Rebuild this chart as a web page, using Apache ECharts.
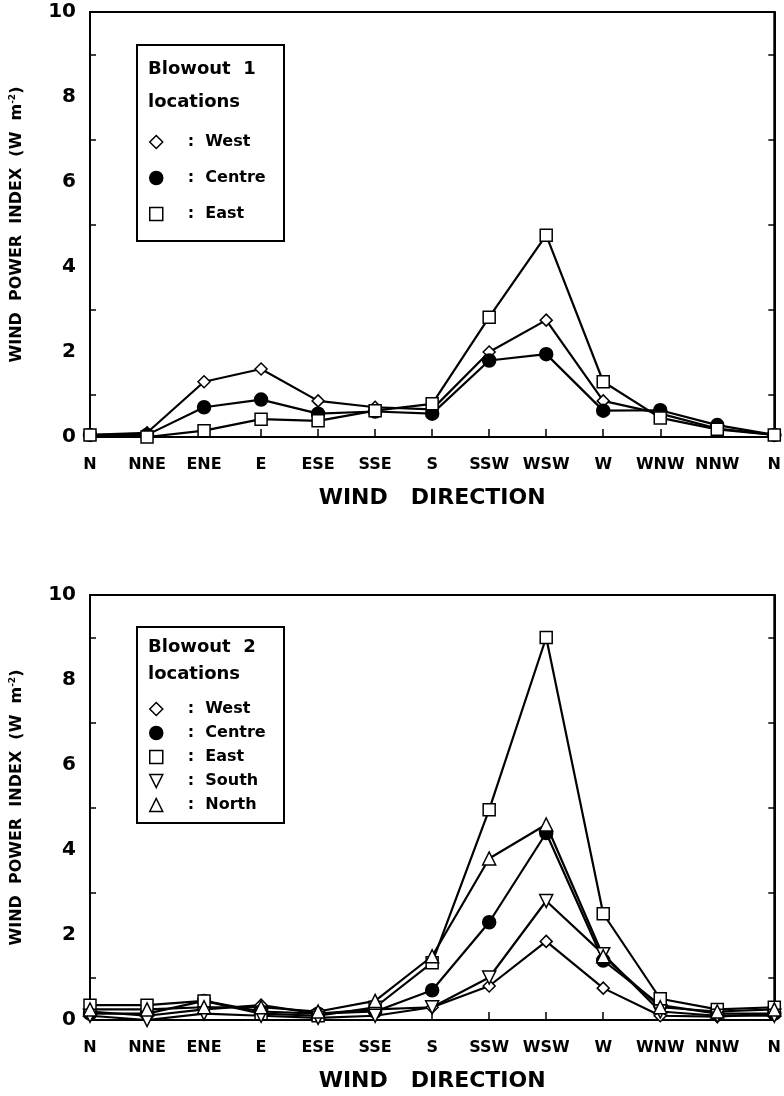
<!DOCTYPE html>
<html>
<head>
<meta charset="utf-8">
<script src="https://cdn.jsdelivr.net/npm/echarts@6/dist/echarts.min.js"></script>
<style>
  html, body { margin: 0; padding: 0; background: #fff; }
  #chart { width: 784px; height: 1096px; }
</style>
</head>
<body>
<div id="chart"></div>
<script>
// Wind power index by wind direction, two blowouts.
var directions = ["N", "NNE", "ENE", "E", "ESE", "SSE", "S", "SSW", "WSW", "W", "WNW", "NNW", "N"];
var yTicks = [0, 2, 4, 6, 8, 10];

// Blowout 1
var b1West   = [0.05, 0.1, 1.3, 1.6, 0.85, 0.7, 0.65, 2.0, 2.75, 0.85, 0.55, 0.2, 0.05];
var b1Centre = [0.05, 0.05, 0.7, 0.88, 0.55, 0.6, 0.55, 1.8, 1.95, 0.62, 0.63, 0.28, 0.05];
var b1East   = [0.05, 0.0, 0.15, 0.42, 0.38, 0.62, 0.78, 2.82, 4.75, 1.3, 0.45, 0.18, 0.05];

// Blowout 2
var b2West   = [0.2, 0.1, 0.25, 0.35, 0.15, 0.25, 0.3, 0.8, 1.85, 0.75, 0.1, 0.08, 0.15];
var b2Centre = [0.15, 0.15, 0.45, 0.2, 0.15, 0.2, 0.7, 2.3, 4.4, 1.4, 0.35, 0.15, 0.15];
var b2East   = [0.35, 0.35, 0.45, 0.15, 0.1, 0.3, 1.35, 4.95, 9.0, 2.5, 0.5, 0.25, 0.3];
var b2South  = [0.1, 0.0, 0.15, 0.1, 0.05, 0.1, 0.3, 1.0, 2.8, 1.55, 0.2, 0.1, 0.1];
var b2North  = [0.25, 0.25, 0.3, 0.3, 0.2, 0.45, 1.5, 3.8, 4.6, 1.5, 0.3, 0.2, 0.25];

var FONT = "DejaVu Sans";
var BLACK = "#000";

var markers = {
  West:   { symbol: "diamond", size: 12, fill: "#fff" },
  Centre: { symbol: "circle", size: 13, fill: BLACK },
  East:   { symbol: "rect", size: 12, fill: "#fff" },
  South:  { symbol: "triangle", size: 13, fill: "#fff", rotate: 180, icon: "path://M0,0L10,0L5,10Z" },
  North:  { symbol: "triangle", size: 13, fill: "#fff" }
};

function makeSeries(name, values, gridIdx) {
  var m = markers[name];
  return {
    name: name,
    type: "line",
    xAxisIndex: gridIdx,
    yAxisIndex: gridIdx * 2,
    data: values,
    symbol: m.symbol,
    symbolSize: m.size,
    symbolRotate: m.rotate || 0,
    showAllSymbol: true,
    lineStyle: { color: BLACK, width: 2.2 },
    itemStyle: { color: m.fill, borderColor: BLACK, borderWidth: 1.5 },
    emphasis: { disabled: true },
    z: 3
  };
}

function xAxisFor(gridIdx) {
  return {
    type: "category",
    gridIndex: gridIdx,
    data: directions,
    boundaryGap: false,
    name: "WIND   DIRECTION",
    nameLocation: "middle",
    nameGap: 50,
    nameTextStyle: { fontFamily: FONT, fontWeight: "bold", fontSize: 22, color: BLACK },
    axisLine: { lineStyle: { color: BLACK, width: 2 } },
    axisTick: { inside: true, length: 8, lineStyle: { color: BLACK, width: 1.5 } },
    axisLabel: { margin: 20, fontFamily: FONT, fontWeight: "bold", fontSize: 16, color: BLACK, interval: 0 },
    splitLine: { show: false }
  };
}

function yAxesFor(gridIdx) {
  var common = {
    type: "value",
    gridIndex: gridIdx,
    min: yTicks[0],
    max: yTicks[yTicks.length - 1],
    interval: 2,
    splitLine: { show: false },
    axisLine: { show: true, lineStyle: { color: BLACK, width: 2 } },
    axisTick: { inside: true, length: 8, lineStyle: { color: BLACK, width: 1.5 } },
    minorTick: { show: true, splitNumber: 2, length: 6, lineStyle: { color: BLACK, width: 1.5 } }
  };
  var left = Object.assign({}, common, {
    position: "left",
    name: "WIND  POWER  INDEX  (W  m{sup|-2})",
    nameLocation: "middle",
    nameGap: 64,
    nameRotate: 90,
    nameTextStyle: {
      fontFamily: FONT, fontWeight: "bold", fontSize: 16, color: BLACK,
      rich: { sup: { fontFamily: FONT, fontWeight: "bold", fontSize: 9, color: BLACK, padding: [0, 0, 9, 0] } }
    },
    axisLabel: { margin: 14, fontFamily: FONT, fontWeight: "bold", fontSize: 20, color: BLACK }
  });
  var right = Object.assign({}, common, {
    position: "right",
    axisLabel: { show: false }
  });
  return [left, right];
}

function legendFor(names, top, gap) {
  return {
    orient: "vertical",
    left: 149,
    top: top,
    itemWidth: 13,
    itemHeight: 13,
    itemGap: gap,
    selectedMode: false,
    z: 20,
    padding: 0,
    data: names.map(function (n) {
      var m = markers[n];
      return { name: n, icon: m.icon || m.symbol, itemStyle: { color: m.fill, borderColor: BLACK, borderWidth: 1.5 } };
    }),
    formatter: function (n) { return ":  " + n; },
    textStyle: { fontFamily: FONT, fontWeight: "bold", fontSize: 16, lineHeight: 13, color: BLACK, padding: [0, 0, 0, 20] }
  };
}

var chart = echarts.init(document.getElementById("chart"), null, { renderer: "canvas" });

var y1 = yAxesFor(0), y2 = yAxesFor(1);

chart.setOption({
  backgroundColor: "#fff",
  animation: false,
  grid: [
    { left: 90, right: 6, top: 12, height: 425, show: true, borderColor: BLACK, borderWidth: 2, backgroundColor: "transparent" },
    { left: 90, right: 6, top: 595, height: 425, show: true, borderColor: BLACK, borderWidth: 2, backgroundColor: "transparent" }
  ],
  xAxis: [xAxisFor(0), xAxisFor(1)],
  yAxis: [y1[0], y1[1], y2[0], y2[1]],
  legend: [
    legendFor(["West", "Centre", "East"], 134, 20),
    legendFor(["West", "Centre", "East", "South", "North"], 701, 8)
  ],
  graphic: [
    { type: "rect", shape: { x: 137, y: 45, width: 147, height: 196 }, style: { fill: "#fff", stroke: BLACK, lineWidth: 2 }, z: 1 },
    { type: "text", x: 148, y: 60, style: { text: "Blowout  1", font: "bold 18px " + FONT, fill: BLACK }, z: 2 },
    { type: "text", x: 148, y: 93, style: { text: "locations", font: "bold 18px " + FONT, fill: BLACK }, z: 2 },
    { type: "rect", shape: { x: 137, y: 627, width: 147, height: 196 }, style: { fill: "#fff", stroke: BLACK, lineWidth: 2 }, z: 1 },
    { type: "text", x: 148, y: 638, style: { text: "Blowout  2", font: "bold 18px " + FONT, fill: BLACK }, z: 2 },
    { type: "text", x: 148, y: 665, style: { text: "locations", font: "bold 18px " + FONT, fill: BLACK }, z: 2 }
  ],
  series: [
    makeSeries("West", b1West, 0),
    makeSeries("Centre", b1Centre, 0),
    makeSeries("East", b1East, 0),
    makeSeries("West", b2West, 1),
    makeSeries("Centre", b2Centre, 1),
    makeSeries("East", b2East, 1),
    makeSeries("South", b2South, 1),
    makeSeries("North", b2North, 1)
  ]
});
</script>
</body>
</html>
